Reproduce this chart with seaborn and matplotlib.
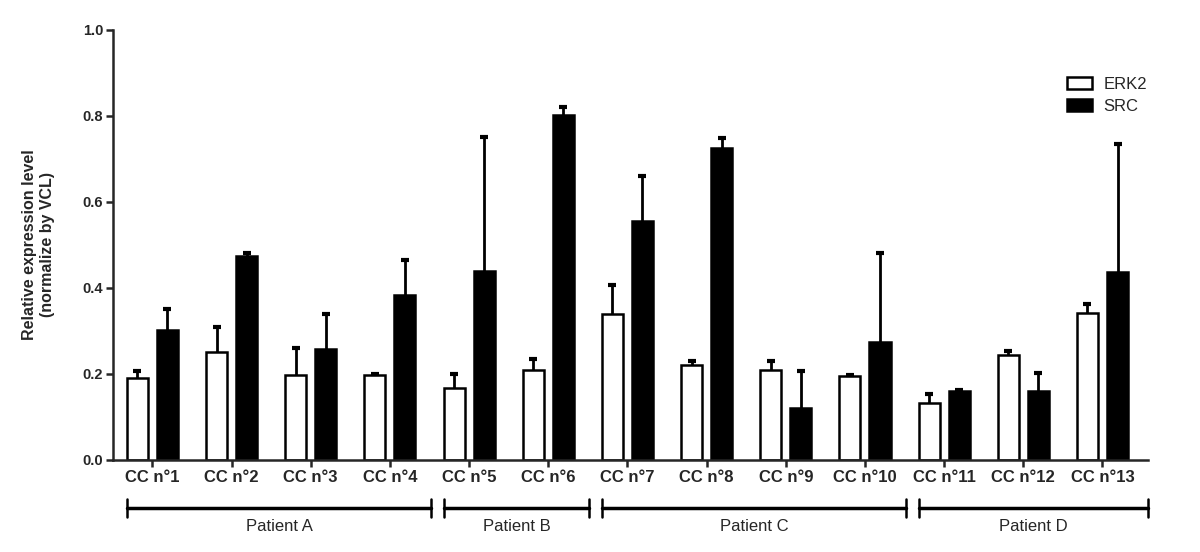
import matplotlib
matplotlib.use("Agg")
import matplotlib.pyplot as plt
import matplotlib.patches as mpatches
import matplotlib.transforms as mtransforms
import numpy as np
import pandas as pd
import seaborn as sns

samples = ["CC n°1", "CC n°2", "CC n°3", "CC n°4", "CC n°5", "CC n°6", "CC n°7",
           "CC n°8", "CC n°9", "CC n°10", "CC n°11", "CC n°12", "CC n°13"]
erk2 = [0.19, 0.25, 0.197, 0.197, 0.167, 0.208, 0.34, 0.22, 0.21, 0.196, 0.133, 0.243, 0.342]
erk2_err = [0.016, 0.06, 0.062, 0.003, 0.033, 0.027, 0.067, 0.01, 0.02, 0.002, 0.02, 0.01, 0.02]
src = [0.302, 0.475, 0.257, 0.383, 0.44, 0.803, 0.555, 0.725, 0.12, 0.273, 0.16, 0.16, 0.437]
src_err = [0.048, 0.006, 0.082, 0.082, 0.31, 0.017, 0.105, 0.023, 0.086, 0.209, 0.003, 0.043, 0.298]

patients = ["Patient A", "Patient B", "Patient C", "Patient D"]
patient_first = [0, 4, 6, 10]
patient_last = [3, 5, 9, 12]

df = pd.DataFrame({
    "sample": samples * 2,
    "gene": ["ERK2"] * len(samples) + ["SRC"] * len(samples),
    "value": erk2 + src,
})
errors = {"ERK2": erk2_err, "SRC": src_err}

sns.set_style("ticks")
plt.rcParams["font.family"] = ["Liberation Sans", "DejaVu Sans"]

fig = plt.figure(figsize=(12, 5.52), dpi=100)
ax = fig.add_axes([0.094, 0.167, 0.863, 0.779])

sns.barplot(data=df, x="sample", y="value", hue="gene",
            palette={"ERK2": "white", "SRC": "black"},
            edgecolor="black", linewidth=1.8, width=0.76, gap=0.3,
            errorbar=None, legend=False, ax=ax)

# upper-only error bars, lower caps hidden
for cont, gene in zip(ax.containers, ["ERK2", "SRC"]):
    xs = [b.get_x() + b.get_width() / 2 for b in cont]
    hs = [b.get_height() for b in cont]
    err = errors[gene]
    eb = ax.errorbar(xs, hs, yerr=[np.zeros(len(err)), err], fmt="none",
                     ecolor="black", elinewidth=2, capsize=3, capthick=3, zorder=1)
    for cap in eb[1]:
        if np.allclose(cap.get_ydata(), hs):
            cap.set_visible(False)

ax.set_ylim(0, 1.0)
ax.set_xlim(-0.5, 12.58)
ax.set_yticks(np.arange(0, 1.01, 0.2))
ax.set_yticklabels([f"{v:.1f}" for v in np.arange(0, 1.01, 0.2)],
                   fontsize=10.5, fontweight="bold")
ax.set_xticks(range(len(samples)))
ax.set_xticklabels(samples, fontsize=12, fontweight="bold")
ax.tick_params(axis="both", direction="out", length=5, width=1.8, pad=2)
ax.set_xlabel("")
ax.set_ylabel("Relative expression level\n(normalize by VCL)",
              fontsize=11.5, fontweight="bold", labelpad=20)
sns.despine(ax=ax)
for s in ["left", "bottom"]:
    ax.spines[s].set_linewidth(1.8)

# patient brackets under the tick labels
trans = mtransforms.blended_transform_factory(ax.transData, ax.transAxes)
for i, name in enumerate(patients):
    x0 = patient_first[i] - 0.32 if i == 0 else patient_last[i - 1] + 0.68
    x1 = patient_last[i] + 0.52 if i < len(patients) - 1 else 12.58
    yb = -0.112
    ax.plot([x0, x1], [yb, yb], color="black", lw=2.5, transform=trans, clip_on=False)
    for xe in (x0, x1):
        ax.plot([xe, xe], [yb - 0.022, yb + 0.022], color="black", lw=1.8,
                transform=trans, clip_on=False)
    ax.text((x0 + x1) / 2, yb - 0.025, name, ha="center", va="top", fontsize=12,
            transform=trans)

handles = [mpatches.Patch(facecolor="white", edgecolor="black", linewidth=1.8, label="ERK2"),
           mpatches.Patch(facecolor="black", edgecolor="black", linewidth=1.8, label="SRC")]
ax.legend(handles=handles, loc="upper right", bbox_to_anchor=(1.013, 0.925),
          frameon=False, fontsize=12, handlelength=1.5, handleheight=0.7,
          handletextpad=0.7, labelspacing=0.4)

fig.savefig("out.png", dpi=100)
